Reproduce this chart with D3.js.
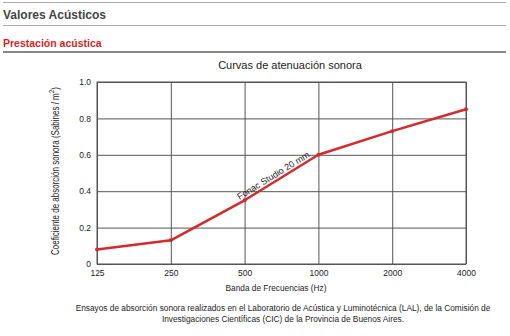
<!DOCTYPE html>
<html>
<head>
<meta charset="utf-8">
<script src="https://cdn.jsdelivr.net/npm/d3@7"></script>
<style>
  html, body { margin: 0; padding: 0; background: #fff; }
  svg { display: block; font-family: "Liberation Sans", Arial, sans-serif; }
</style>
</head>
<body>
<svg id="chart" width="510" height="336"></svg>
<script>
// Frequency bands (Hz) and measured absorption coefficients
const bands = ["125", "250", "500", "1000", "2000", "4000"];
const absorption = [0.08, 0.13, 0.35, 0.60, 0.73, 0.85];
const yTicks = [0, 0.2, 0.4, 0.6, 0.8, 1.0];
const seriesName = "Fonac Studio 20 mm";

const svg = d3.select("#chart");

// Page header
svg.append("line").attr("x1", 3).attr("x2", 506).attr("y1", 2.5).attr("y2", 2.5)
  .attr("stroke", "#aaa").attr("stroke-width", 1);
svg.append("text").attr("x", 3).attr("y", 19)
  .attr("font-size", 12).attr("font-weight", "bold").attr("fill", "#444")
  .text("Valores Acústicos");
svg.append("line").attr("x1", 3).attr("x2", 506).attr("y1", 25.5).attr("y2", 25.5)
  .attr("stroke", "#aaa").attr("stroke-width", 1);
svg.append("text").attr("x", 3).attr("y", 47)
  .attr("font-size", 10.5).attr("font-weight", "bold").attr("fill", "#d21f1f")
  .text("Prestación acústica");
svg.append("line").attr("x1", 3).attr("x2", 506).attr("y1", 52).attr("y2", 52)
  .attr("stroke", "#888").attr("stroke-width", 2);

// Plot area
const plot = { left: 97, right: 466, top: 82, bottom: 264 };

const x = d3.scalePoint().domain(bands).range([plot.left, plot.right]).padding(0);
const y = d3.scaleLinear().domain([0, 1]).range([plot.bottom, plot.top]);

// Chart title
svg.append("text").attr("x", 290).attr("y", 69).attr("text-anchor", "middle")
  .attr("font-size", 11).attr("fill", "#222")
  .text("Curvas de atenuación sonora");

// Horizontal grid lines + Y axis labels
const yAxis = d3.axisLeft(y).tickValues(yTicks)
  .tickFormat(d => d === 0 ? "0" : d3.format(".1f")(d))
  .tickSize(-(plot.right - plot.left)).tickPadding(6);
const gy = svg.append("g").attr("transform", `translate(${plot.left},0)`).call(yAxis);
gy.select(".domain").remove();
gy.selectAll(".tick line").attr("stroke", "#555").attr("stroke-width", 1);
gy.selectAll(".tick text").attr("font-size", 8.5).attr("fill", "#222")
  .attr("font-family", "Liberation Sans, Arial, sans-serif");

// Vertical grid lines + X axis labels
const xAxis = d3.axisBottom(x).tickSize(-(plot.bottom - plot.top)).tickPadding(6);
const gx = svg.append("g").attr("transform", `translate(0,${plot.bottom})`).call(xAxis);
gx.select(".domain").remove();
gx.selectAll(".tick line").attr("stroke", "#555").attr("stroke-width", 1);
gx.selectAll(".tick text").attr("font-size", 8.5).attr("fill", "#222")
  .attr("font-family", "Liberation Sans, Arial, sans-serif");

// Plot frame
svg.append("rect")
  .attr("x", plot.left).attr("y", plot.top)
  .attr("width", plot.right - plot.left).attr("height", plot.bottom - plot.top)
  .attr("fill", "none").attr("stroke", "#555").attr("stroke-width", 1);

// Absorption curve
const pts = bands.map((b, i) => [x(b), y(absorption[i])]);
svg.append("path")
  .attr("d", d3.line()(pts))
  .attr("fill", "none").attr("stroke", "#d42a2a").attr("stroke-width", 2.5)
  .attr("stroke-linejoin", "round");
svg.selectAll("circle.pt").data(pts).join("circle").attr("class", "pt")
  .attr("cx", d => d[0]).attr("cy", d => d[1]).attr("r", 2)
  .attr("fill", "#d42a2a");

// Series label along the 500–1000 segment
const p0 = pts[2], p1 = pts[3];
const ang = Math.atan2(p1[1] - p0[1], p1[0] - p0[0]) * 180 / Math.PI;
const mx = (p0[0] + p1[0]) / 2, my = (p0[1] + p1[1]) / 2;
svg.append("text")
  .attr("transform", `translate(${mx},${my}) rotate(${ang}) translate(-6,-3)`)
  .attr("text-anchor", "middle").attr("font-size", 9).attr("fill", "#222")
  .text(seriesName);

// Axis titles
svg.append("text").attr("x", 276).attr("y", 291).attr("text-anchor", "middle")
  .attr("font-size", 8.3).attr("fill", "#222")
  .text("Banda de Frecuencias (Hz)");

const yt = svg.append("text")
  .attr("transform", `translate(59,171) rotate(-90)`)
  .attr("text-anchor", "middle").attr("font-size", 10).attr("fill", "#222")
  .attr("textLength", 168).attr("lengthAdjust", "spacingAndGlyphs");
yt.append("tspan").text("Coeficiente de absorción sonora (Sabines / m");
yt.append("tspan").attr("dy", -5).attr("font-size", 8).text("2");
yt.append("tspan").attr("dy", 5).text(")");

// Footnote
const foot = [
  "Ensayos de absorción sonora realizados en el Laboratorio de Acústica y Luminotécnica (LAL), de la Comisión de",
  "Investigaciones Científicas (CIC) de la Provincia de Buenos Aires."
];
svg.selectAll("text.foot").data(foot).join("text").attr("class", "foot")
  .attr("x", 283).attr("y", (d, i) => 311 + i * 11)
  .attr("text-anchor", "middle").attr("font-size", 8.3).attr("fill", "#222")
  .text(d => d);
</script>
</body>
</html>
